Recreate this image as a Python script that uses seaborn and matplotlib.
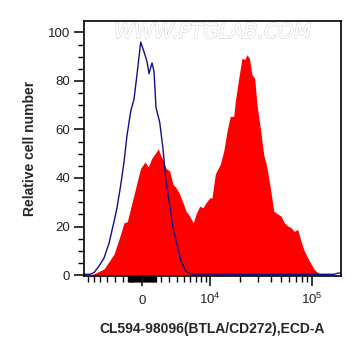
import numpy as np
import matplotlib
matplotlib.use('Agg')
import matplotlib.pyplot as plt
import matplotlib.patheffects as pe
import seaborn as sns

# histogram readings, x in display channel (0 = left edge of plot, 257 = right edge)
red_x = [0, 6, 10, 20, 30, 36.7, 40, 43.3, 46.7, 50, 53.3, 56.7, 60, 61, 64.3, 67.7,
         71, 74.3, 77, 79, 82, 85.7, 89, 92, 95.7, 99, 102, 105.7, 109.3, 112, 115.7,
         119, 122, 125.7, 128, 131.3, 136.3, 139.7, 143, 146.3, 149.7, 151.3, 154.7,
         158, 160.7, 163, 165.3, 168, 170.7, 173, 176.3, 179.7, 183, 186.3, 189.7, 192,
         197, 200.3, 203.7, 207, 210.3, 213.7, 217, 220.3, 225.3, 230.3, 235.3, 240.3, 257]
red_y = [0, 0.1, 0.5, 2.5, 8.6, 17, 21.5, 22, 27.7, 33, 38.7, 44, 46, 46.6, 44.6, 48,
         50, 52, 49, 47.5, 44, 42.8, 37.4, 36, 33.3, 29.8, 26.3, 24.3, 21.5, 25, 28.4,
         27.7, 29.8, 31.8, 31.8, 41.6, 45.7, 51, 59.3, 65.4, 65.4, 71.6, 81,
         89.4, 88.8, 90.8, 89.4, 82.6, 81, 70.2, 60.6, 49.7, 44.2, 36, 26.3, 25.6,
         24.3, 21.5, 20.2, 19.5, 18, 18.8, 14, 9.9, 5.8, 2.3, 0.5, 0.1, 0]

blue_x = [0, 6, 10, 15, 20, 25, 30, 33, 36.7, 40, 43, 46.7, 50, 53, 56.7, 60, 63, 65,
          68, 70, 72, 75.7, 79, 82, 85.7, 89, 94, 97, 102, 107, 150, 250, 254, 257]
blue_y = [0.3, 0.3, 1, 3.7, 7, 13, 22, 27.7, 37, 46.5, 57.5, 67.5, 72.4, 82.7, 96, 92,
          88, 83, 87.4, 84, 69, 63, 52, 38.7, 29, 19.5, 11, 5.7, 1.6, 0.4, 0.3, 0.3, 0.8, 0.8]

major_vals = [0, 1e4, 1e5]
major_labels = ['0', r'$10^4$', r'$10^5$']


def chan(v):
    # asinh-like display transform (0 at channel 58, one decade ~102 channels)
    return 58 + 45.35 * np.arcsinh(np.asarray(v, dtype=float) / 4700.0)


sns.set_style('ticks')
plt.rcParams['font.family'] = ['Liberation Sans', 'DejaVu Sans']
plt.rcParams['mathtext.fontset'] = 'custom'
plt.rcParams['mathtext.rm'] = 'Liberation Sans'
plt.rcParams['mathtext.it'] = 'Liberation Sans'

fig = plt.figure(figsize=(3.61, 3.56), dpi=100)
ax = fig.add_axes([84 / 361, 1 - 276 / 356, 257 / 361, 255 / 356])

ax.fill_between(red_x, red_y, 0, color='#ff0000', linewidth=0)
sns.lineplot(x=blue_x, y=blue_y, ax=ax, color='#10108a', linewidth=1.0, sort=False)

ax.set_xlim(0, 257)
ax.set_ylim(-0.4, 104.7)

# x ticks
ax.set_xticks(chan(major_vals))
ax.set_xticklabels(major_labels)
minor = list(np.arange(-7000, -999, 1000)) + list(np.arange(-1500, 1501, 100)) \
    + list(np.arange(2000, 9001, 1000)) + list(np.arange(20000, 90001, 10000))
ax.set_xticks(chan(minor), minor=True)

# y ticks
ax.set_yticks(range(0, 101, 20))
ax.set_yticks(range(5, 101, 5), minor=True)

ax.tick_params(axis='both', which='major', length=7, width=1.1, labelsize=9.5,
               labelcolor='#222222', color='black')
ax.tick_params(axis='both', which='minor', length=4, width=1.0, color='black')
ax.tick_params(axis='y', which='major', pad=3)
ax.tick_params(axis='x', which='major', pad=13)
for lbl in ax.get_xticklabels():
    lbl.set_verticalalignment('baseline')

for s in ax.spines.values():
    s.set_visible(True)
    s.set_color('black')
    s.set_linewidth(1.2)

ax.set_xlabel('CL594-98096(BTLA/CD272),ECD-A', fontsize=10, fontweight='bold', labelpad=11)
ax.set_ylabel('Relative cell number', fontsize=10, fontweight='bold', labelpad=8)

t = ax.text(0.5, 0.955, 'WWW.PTGLAB.COM', transform=ax.transAxes, ha='center', va='center',
            fontsize=14.5, style='italic', color='white', family='DejaVu Sans')
t.set_path_effects([pe.withStroke(linewidth=0.9, foreground='#d2d2d2'), pe.Normal()])

fig.savefig('out.png', dpi=100)
